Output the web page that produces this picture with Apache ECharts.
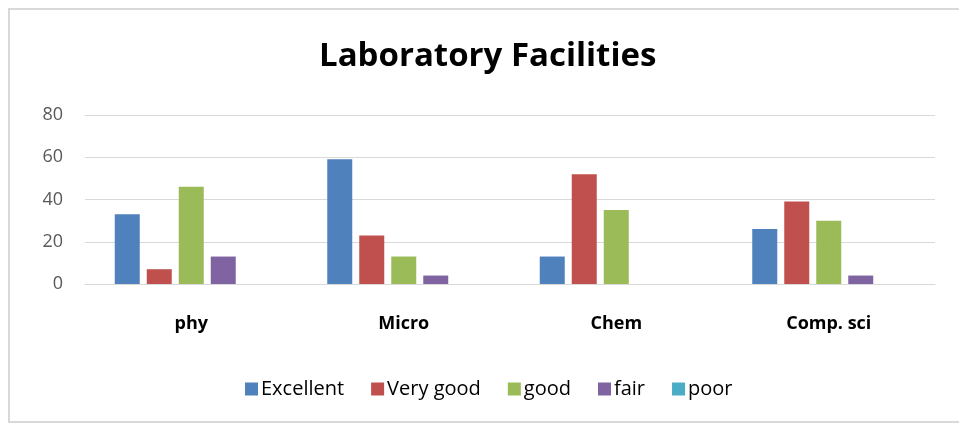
<!DOCTYPE html>
<html>
<head>
<meta charset="utf-8">
<script src="https://cdn.jsdelivr.net/npm/echarts@6/dist/echarts.min.js"></script>
<style>
  html, body { margin: 0; padding: 0; background: #fff; }
  #myChart { width: 959px; height: 423px; }
</style>
</head>
<body>
<div id="myChart"></div>
<script>
// categories and values
var categories = ['phy', 'Micro', 'Chem', 'Comp. sci'];
var excellent = [33, 59, 13, 26];
var veryGood = [7, 23, 52, 39];
var good = [46, 13, 35, 30];
var fair = [13, 4, 0, 4];
var poor = [0, 0, 0, 0];
var yTicks = [0, 20, 40, 60, 80];

var myChart = echarts.init(document.getElementById('myChart'));

var font = '"Open Sans", Lato, sans-serif';

function bar(name, data, color) {
	return {
		name: name,
		type: 'bar',
		data: data,
		barGap: '28%',
		barCategoryGap: '28%',
		itemStyle: { color: color },
		emphasis: { disabled: true }
	};
}

var option = {
	animation: false,
	textStyle: { fontFamily: font },
	graphic: [{
		type: 'rect',
		shape: { x: 9, y: 9, width: 1000, height: 413 },
		style: { fill: 'none', stroke: '#d9d9d9', lineWidth: 2 },
		silent: true
	}],
	title: {
		text: 'Laboratory Facilities',
		left: 314,
		top: 35,
		textStyle: { fontFamily: font, fontSize: 33, fontWeight: 'bold', color: '#000' }
	},
	legend: {
		data: ['Excellent', 'Very good', 'good', 'fair', 'poor'],
		bottom: 19,
		left: 240,
		icon: 'rect',
		itemWidth: 13,
		itemHeight: 13,
		itemGap: 27,
		textStyle: { fontFamily: font, fontSize: 20, color: '#000', padding: [0, 0, 0, -2] }
	},
	grid: { left: 85, right: 24, top: 115, height: 169 },
	xAxis: {
		type: 'category',
		data: categories,
		axisTick: { show: false },
		axisLine: { lineStyle: { color: '#d9d9d9', width: 1 } },
		axisLabel: { fontFamily: font, fontSize: 18, fontWeight: 'bold', color: '#000', margin: 31 }
	},
	yAxis: {
		type: 'value',
		min: yTicks[0],
		max: yTicks[yTicks.length - 1],
		interval: 20,
		axisLine: { show: false },
		axisTick: { show: false },
		splitLine: { lineStyle: { color: '#d9d9d9', width: 1 } },
		axisLabel: { fontFamily: font, fontSize: 18, color: '#595959', margin: 22 }
	},
	series: [
		bar('Excellent', excellent, '#4f81bd'),
		bar('Very good', veryGood, '#c0504d'),
		bar('good', good, '#9bbb59'),
		bar('fair', fair, '#8064a2'),
		bar('poor', poor, '#4bacc6')
	]
};

myChart.setOption(option);
</script>
</body>
</html>
